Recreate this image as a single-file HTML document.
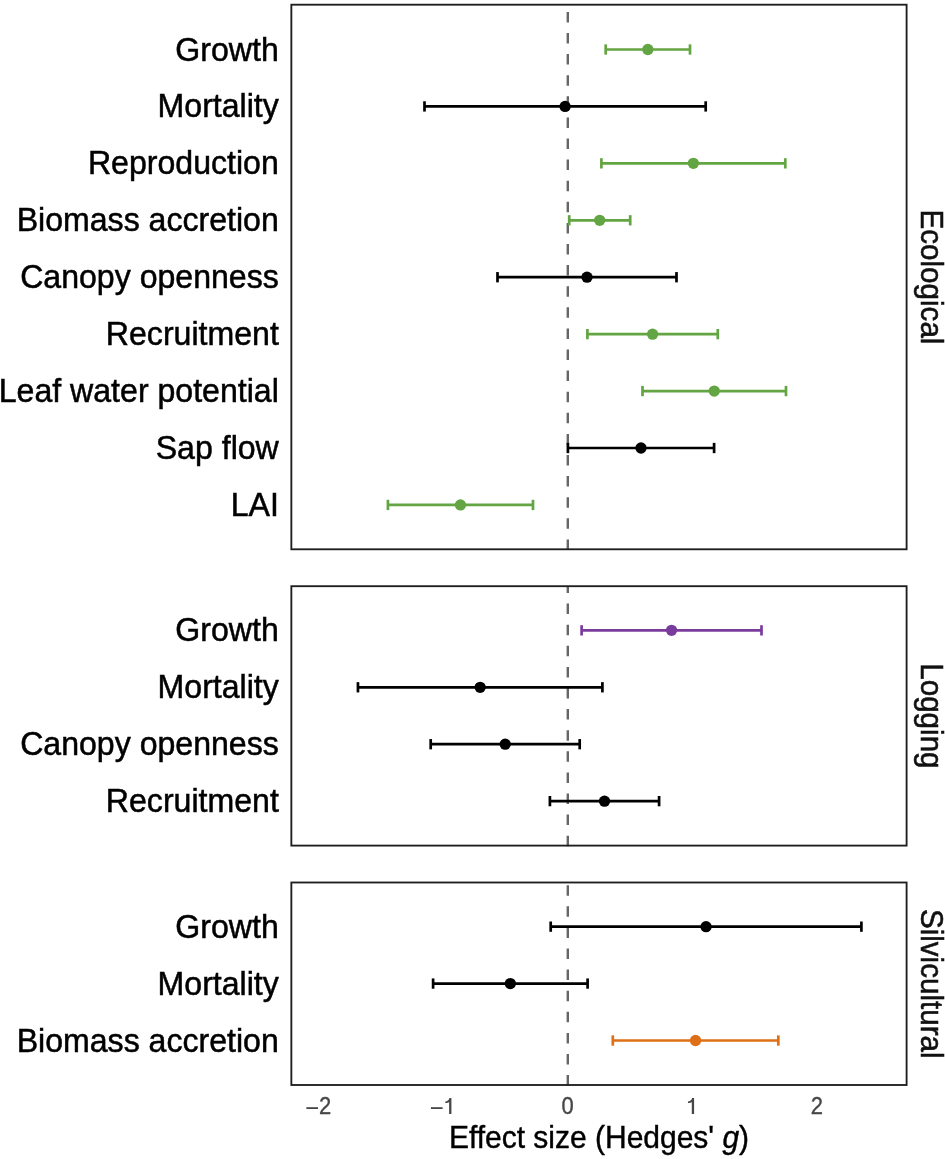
<!DOCTYPE html>
<html><head><meta charset="utf-8"><style>
html,body{margin:0;padding:0;background:#fff;width:945px;height:1159px;overflow:hidden}
svg{display:block;will-change:transform;font-family:"Liberation Sans",sans-serif}
</style></head><body>
<svg width="945" height="1159" viewBox="0 0 945 1159">
<rect width="945" height="1159" fill="#fff"/>
<line x1="567.80" y1="549.90" x2="567.80" y2="4.70" stroke="#666666" stroke-width="2.4" stroke-dasharray="10.5 10.6"/>
<g stroke="#63a542" stroke-width="2.7" fill="none"><line x1="605.70" y1="49.50" x2="690.00" y2="49.50"/><line x1="605.70" y1="44.35" x2="605.70" y2="54.65"/><line x1="690.00" y1="44.35" x2="690.00" y2="54.65"/></g>
<circle cx="647.85" cy="49.50" r="5.65" fill="#63a542"/>
<text transform="translate(278.8 60.50) scale(1 1.04)" font-size="32.1" text-anchor="end" fill="#000" stroke="#000" stroke-width="0.5">Growth</text>
<g stroke="#000" stroke-width="2.7" fill="none"><line x1="424.50" y1="106.43" x2="705.70" y2="106.43"/><line x1="424.50" y1="101.28" x2="424.50" y2="111.58"/><line x1="705.70" y1="101.28" x2="705.70" y2="111.58"/></g>
<circle cx="565.10" cy="106.43" r="5.65" fill="#000"/>
<text transform="translate(278.8 117.43) scale(1 1.04)" font-size="32.1" text-anchor="end" fill="#000" stroke="#000" stroke-width="0.5">Mortality</text>
<g stroke="#63a542" stroke-width="2.7" fill="none"><line x1="601.40" y1="163.36" x2="785.30" y2="163.36"/><line x1="601.40" y1="158.21" x2="601.40" y2="168.51"/><line x1="785.30" y1="158.21" x2="785.30" y2="168.51"/></g>
<circle cx="693.35" cy="163.36" r="5.65" fill="#63a542"/>
<text transform="translate(278.8 174.36) scale(1 1.04)" font-size="32.1" text-anchor="end" fill="#000" stroke="#000" stroke-width="0.5">Reproduction</text>
<g stroke="#63a542" stroke-width="2.7" fill="none"><line x1="569.20" y1="220.29" x2="630.20" y2="220.29"/><line x1="569.20" y1="215.14" x2="569.20" y2="225.44"/><line x1="630.20" y1="215.14" x2="630.20" y2="225.44"/></g>
<circle cx="599.70" cy="220.29" r="5.65" fill="#63a542"/>
<text transform="translate(278.8 231.29) scale(1 1.04)" font-size="32.1" text-anchor="end" fill="#000" stroke="#000" stroke-width="0.5">Biomass accretion</text>
<g stroke="#000" stroke-width="2.7" fill="none"><line x1="497.50" y1="277.22" x2="676.50" y2="277.22"/><line x1="497.50" y1="272.07" x2="497.50" y2="282.37"/><line x1="676.50" y1="272.07" x2="676.50" y2="282.37"/></g>
<circle cx="587.00" cy="277.22" r="5.65" fill="#000"/>
<text transform="translate(278.8 288.22) scale(1 1.04)" font-size="32.1" text-anchor="end" fill="#000" stroke="#000" stroke-width="0.5">Canopy openness</text>
<g stroke="#63a542" stroke-width="2.7" fill="none"><line x1="587.40" y1="334.15" x2="717.80" y2="334.15"/><line x1="587.40" y1="329.00" x2="587.40" y2="339.30"/><line x1="717.80" y1="329.00" x2="717.80" y2="339.30"/></g>
<circle cx="652.60" cy="334.15" r="5.65" fill="#63a542"/>
<text transform="translate(278.8 345.15) scale(1 1.04)" font-size="32.1" text-anchor="end" fill="#000" stroke="#000" stroke-width="0.5">Recruitment</text>
<g stroke="#63a542" stroke-width="2.7" fill="none"><line x1="642.50" y1="391.08" x2="786.00" y2="391.08"/><line x1="642.50" y1="385.93" x2="642.50" y2="396.23"/><line x1="786.00" y1="385.93" x2="786.00" y2="396.23"/></g>
<circle cx="714.25" cy="391.08" r="5.65" fill="#63a542"/>
<text transform="translate(278.8 402.08) scale(1 1.04)" font-size="32.1" text-anchor="end" fill="#000" stroke="#000" stroke-width="0.5">Leaf water potential</text>
<g stroke="#000" stroke-width="2.7" fill="none"><line x1="567.90" y1="448.01" x2="714.10" y2="448.01"/><line x1="567.90" y1="442.86" x2="567.90" y2="453.16"/><line x1="714.10" y1="442.86" x2="714.10" y2="453.16"/></g>
<circle cx="641.00" cy="448.01" r="5.65" fill="#000"/>
<text transform="translate(278.8 459.01) scale(1 1.04)" font-size="32.1" text-anchor="end" fill="#000" stroke="#000" stroke-width="0.5">Sap flow</text>
<g stroke="#63a542" stroke-width="2.7" fill="none"><line x1="387.90" y1="504.94" x2="533.00" y2="504.94"/><line x1="387.90" y1="499.79" x2="387.90" y2="510.09"/><line x1="533.00" y1="499.79" x2="533.00" y2="510.09"/></g>
<circle cx="460.45" cy="504.94" r="5.65" fill="#63a542"/>
<text transform="translate(278.8 515.94) scale(1 1.04)" font-size="32.1" text-anchor="end" fill="#000" stroke="#000" stroke-width="0.5">LAI</text>
<rect x="291.35" y="4.70" width="615.25" height="544.60" fill="none" stroke="#1e1e1e" stroke-width="1.85"/>
<text transform="translate(921.3 277.00) rotate(90) scale(1 1.035)" font-size="29.6" text-anchor="middle" fill="#111" stroke="#111" stroke-width="0.55">Ecological</text>
<line x1="567.80" y1="846.20" x2="567.80" y2="586.20" stroke="#666666" stroke-width="2.4" stroke-dasharray="10.5 10.6"/>
<g stroke="#793c9c" stroke-width="2.7" fill="none"><line x1="581.60" y1="630.35" x2="761.50" y2="630.35"/><line x1="581.60" y1="625.20" x2="581.60" y2="635.50"/><line x1="761.50" y1="625.20" x2="761.50" y2="635.50"/></g>
<circle cx="671.55" cy="630.35" r="5.65" fill="#793c9c"/>
<text transform="translate(278.8 641.35) scale(1 1.04)" font-size="32.1" text-anchor="end" fill="#000" stroke="#000" stroke-width="0.5">Growth</text>
<g stroke="#000" stroke-width="2.7" fill="none"><line x1="357.95" y1="687.28" x2="602.40" y2="687.28"/><line x1="357.95" y1="682.13" x2="357.95" y2="692.43"/><line x1="602.40" y1="682.13" x2="602.40" y2="692.43"/></g>
<circle cx="480.17" cy="687.28" r="5.65" fill="#000"/>
<text transform="translate(278.8 698.28) scale(1 1.04)" font-size="32.1" text-anchor="end" fill="#000" stroke="#000" stroke-width="0.5">Mortality</text>
<g stroke="#000" stroke-width="2.7" fill="none"><line x1="430.70" y1="744.21" x2="579.70" y2="744.21"/><line x1="430.70" y1="739.06" x2="430.70" y2="749.36"/><line x1="579.70" y1="739.06" x2="579.70" y2="749.36"/></g>
<circle cx="505.20" cy="744.21" r="5.65" fill="#000"/>
<text transform="translate(278.8 755.21) scale(1 1.04)" font-size="32.1" text-anchor="end" fill="#000" stroke="#000" stroke-width="0.5">Canopy openness</text>
<g stroke="#000" stroke-width="2.7" fill="none"><line x1="549.90" y1="801.14" x2="659.10" y2="801.14"/><line x1="549.90" y1="795.99" x2="549.90" y2="806.29"/><line x1="659.10" y1="795.99" x2="659.10" y2="806.29"/></g>
<circle cx="604.50" cy="801.14" r="5.65" fill="#000"/>
<text transform="translate(278.8 812.14) scale(1 1.04)" font-size="32.1" text-anchor="end" fill="#000" stroke="#000" stroke-width="0.5">Recruitment</text>
<rect x="291.35" y="586.20" width="615.25" height="259.40" fill="none" stroke="#1e1e1e" stroke-width="1.85"/>
<text transform="translate(921.3 715.90) rotate(90) scale(1 1.035)" font-size="29.6" text-anchor="middle" fill="#111" stroke="#111" stroke-width="0.55">Logging</text>
<line x1="567.80" y1="1085.60" x2="567.80" y2="882.50" stroke="#666666" stroke-width="2.4" stroke-dasharray="10.5 10.6"/>
<g stroke="#000" stroke-width="2.7" fill="none"><line x1="550.70" y1="926.65" x2="861.40" y2="926.65"/><line x1="550.70" y1="921.50" x2="550.70" y2="931.80"/><line x1="861.40" y1="921.50" x2="861.40" y2="931.80"/></g>
<circle cx="706.05" cy="926.65" r="5.65" fill="#000"/>
<text transform="translate(278.8 937.65) scale(1 1.04)" font-size="32.1" text-anchor="end" fill="#000" stroke="#000" stroke-width="0.5">Growth</text>
<g stroke="#000" stroke-width="2.7" fill="none"><line x1="433.10" y1="983.58" x2="587.60" y2="983.58"/><line x1="433.10" y1="978.43" x2="433.10" y2="988.73"/><line x1="587.60" y1="978.43" x2="587.60" y2="988.73"/></g>
<circle cx="510.35" cy="983.58" r="5.65" fill="#000"/>
<text transform="translate(278.8 994.58) scale(1 1.04)" font-size="32.1" text-anchor="end" fill="#000" stroke="#000" stroke-width="0.5">Mortality</text>
<g stroke="#de6f16" stroke-width="2.7" fill="none"><line x1="612.80" y1="1040.51" x2="778.30" y2="1040.51"/><line x1="612.80" y1="1035.36" x2="612.80" y2="1045.66"/><line x1="778.30" y1="1035.36" x2="778.30" y2="1045.66"/></g>
<circle cx="695.55" cy="1040.51" r="5.65" fill="#de6f16"/>
<text transform="translate(278.8 1051.51) scale(1 1.04)" font-size="32.1" text-anchor="end" fill="#000" stroke="#000" stroke-width="0.5">Biomass accretion</text>
<rect x="291.35" y="882.50" width="615.25" height="202.50" fill="none" stroke="#1e1e1e" stroke-width="1.85"/>
<text transform="translate(921.3 983.75) rotate(90) scale(1 1.035)" font-size="29.6" text-anchor="middle" fill="#111" stroke="#111" stroke-width="0.55">Silvicultural</text>
<rect x="306.36" y="1107.2" width="11.7" height="1.8" fill="#474747"/>
<text transform="translate(325.02 1114) scale(1 1.065)" font-size="22" text-anchor="middle" fill="#474747" stroke="#474747" stroke-width="0.35">2</text>
<rect x="430.91" y="1107.2" width="11.7" height="1.8" fill="#474747"/>
<path d="M449.12 1113.9 L451.42 1113.9 L451.42 1098.0 L449.47 1098.0 C448.92 1100.4 447.22 1101.3 445.27 1101.4 L445.27 1102.9 C447.12 1102.9 448.52 1102.6 449.12 1101.9 Z" fill="#474747"/>
<text transform="translate(567.70 1114) scale(1 1.065)" font-size="22" text-anchor="middle" fill="#474747" stroke="#474747" stroke-width="0.35">0</text>
<path d="M691.80 1113.9 L694.10 1113.9 L694.10 1098.0 L692.15 1098.0 C691.60 1100.4 689.90 1101.3 687.95 1101.4 L687.95 1102.9 C689.80 1102.9 691.20 1102.6 691.80 1101.9 Z" fill="#474747"/>
<text transform="translate(816.80 1114) scale(1 1.065)" font-size="22" text-anchor="middle" fill="#474747" stroke="#474747" stroke-width="0.35">2</text>
<text transform="translate(599 1147.6) scale(1 1.04)" font-size="30" text-anchor="middle" fill="#000" stroke="#000" stroke-width="0.4">Effect size (Hedges' <tspan font-style="italic">g</tspan>)</text>
</svg>
</body></html>
